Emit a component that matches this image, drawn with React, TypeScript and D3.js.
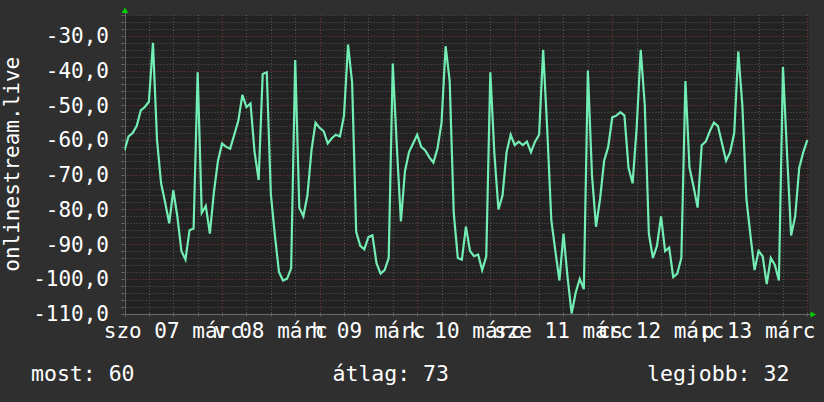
import { useEffect, useRef } from 'react';
import * as d3 from 'd3';

// hourly values, one array per day (07..13 márc) + the last sample
const mar07 = [-63, -59, -58, -56, -51.5, -50.5, -49, -32, -60, -72.5, -78, -84, -74.5, -82, -92, -94.5, -86, -85.5, -40.5, -81, -79, -87, -75, -66];
const mar08 = [-61, -62, -62.5, -58.5, -54.5, -47, -50.5, -49.5, -63.5, -71.5, -41, -40.5, -75.5, -87.5, -98, -100.5, -100, -97, -37, -79.5, -82, -76, -63, -55];
const mar09 = [-56.5, -57.5, -61, -59.5, -58.5, -59, -53, -32.5, -43.5, -86.5, -90.5, -91.5, -88, -87.5, -95.5, -98.5, -97.5, -94, -38, -62, -83.5, -69, -63.5, -61];
const mar10 = [-58.5, -62, -63, -65, -66.5, -62.5, -55, -33, -43, -81, -94, -94.5, -85, -92, -93.5, -93, -97.5, -93.5, -40.5, -64, -80, -76, -63.5, -58.5];
const mar11 = [-61.5, -60.5, -61.5, -60.5, -63.5, -60.5, -58.5, -34, -57, -83, -92, -100.5, -87, -99.5, -110, -104, -100, -103, -40, -70, -85, -77, -66, -62];
const mar12 = [-53.5, -53, -52, -53, -68, -72.5, -56.5, -34, -50, -87, -94, -90.5, -82, -92, -91, -99.5, -98.5, -94, -43, -68, -73.5, -79.5, -61.5, -60.5];
const mar13 = [-57.5, -55, -56, -61, -66, -63.5, -58, -34.5, -50, -77, -87.5, -97.5, -92, -93.5, -101.5, -94, -96, -100.5, -39, -64, -87.5, -82, -68, -63.5];
const mar14 = [-60];

const dayLabels = ['szo 07 márc', 'v 08 márc', 'h 09 márc', 'k 10 márc', 'sze 11 márc', 'cs 12 márc', 'p 13 márc'];
const yTicks = [-110, -100, -90, -80, -70, -60, -50, -40, -30];
const legendLabels = ['most: 60', 'átlag: 73', 'legjobb: 32'];
const yTitle = 'onlinestream.live';

export default function App() {
  const ref = useRef<SVGSVGElement>(null);

  useEffect(() => {
    if (!ref.current) return;
    const svg = d3.select(ref.current);
    svg.selectAll('*').remove();
    const W = 824, H = 402;
    const left = 124.5, right = 809, top = 15, bottom = 313.5;
    const font = "'DejaVu Sans Mono', monospace";
    const values = [...mar07, ...mar08, ...mar09, ...mar10, ...mar11, ...mar12, ...mar13, ...mar14];

    const x = d3.scaleLinear().domain([0, 168.4]).range([left, right]);
    const y = d3.scaleLinear().domain([-110, -24]).range([bottom, top]);
    const px = (v: number) => Math.round(v) + 0.5;

    svg.append('rect').attr('width', W).attr('height', H).attr('fill', '#2f2f2f');
    svg.append('rect').attr('x', left).attr('y', top).attr('width', right - left).attr('height', bottom - top).attr('fill', '#222222');

    // horizontal grid
    const hvals = d3.range(-110, -23, 2);
    svg.append('g').selectAll('line').data(hvals).enter().append('line')
      .attr('x1', left).attr('x2', right)
      .attr('y1', (d) => px(y(d))).attr('y2', (d) => px(y(d)))
      .attr('stroke', (d) => (d % 10 === 0 ? '#7a3434' : '#555555'))
      .attr('stroke-dasharray', '1,2');
    // vertical grid every 6 hours
    const vvals = d3.range(0, 169, 6);
    svg.append('g').selectAll('line').data(vvals).enter().append('line')
      .attr('x1', (d) => px(x(d))).attr('x2', (d) => px(x(d)))
      .attr('y1', top).attr('y2', bottom)
      .attr('stroke', (d) => (d % 24 === 0 ? '#7a3434' : '#555555'))
      .attr('stroke-dasharray', '1,2');

    // axes
    svg.append('line').attr('x1', left - 3).attr('x2', right + 2).attr('y1', px(bottom)).attr('y2', px(bottom)).attr('stroke', '#666');
    svg.append('line').attr('x1', px(left)).attr('x2', px(left)).attr('y1', top - 3).attr('y2', bottom + 3).attr('stroke', '#666');
    svg.append('g').selectAll('line').data(vvals).enter().append('line')
      .attr('x1', (d) => px(x(d))).attr('x2', (d) => px(x(d)))
      .attr('y1', bottom).attr('y2', bottom + 3).attr('stroke', '#666');
    svg.append('g').selectAll('line').data(hvals).enter().append('line')
      .attr('x1', left - 3).attr('x2', left)
      .attr('y1', (d) => px(y(d))).attr('y2', (d) => px(y(d))).attr('stroke', '#666');

    // arrows
    svg.append('path').attr('d', 'M121.5,13 L125,7.5 L128.5,13 Z').attr('fill', '#00cc00');
    svg.append('path').attr('d', 'M810.5,311.5 L816,314.5 L810.5,317.5 Z').attr('fill', '#00cc00');

    // series
    svg.append('clipPath').attr('id', 'plotclip').append('rect')
      .attr('x', left).attr('y', top - 1).attr('width', right - left).attr('height', bottom - top + 2);
    const line = d3.line<number>().x((d, i) => x(i)).y((d) => y(d)).curve(d3.curveLinear);
    svg.append('path').datum(values).attr('d', line)
      .attr('clip-path', 'url(#plotclip)')
      .attr('fill', 'none').attr('stroke', '#72eeb4').attr('stroke-width', 2.2).attr('stroke-linejoin', 'miter');

    // y tick labels
    svg.append('g').selectAll('text').data(yTicks).enter().append('text')
      .attr('x', 109).attr('y', (d) => y(d) + 7.5)
      .attr('text-anchor', 'end').attr('font-family', font).attr('font-size', 21).attr('fill', '#fff')
      .text((d) => d.toFixed(1).replace('.', ','));

    // x day labels, centred at noon
    svg.append('g').selectAll('text').data(dayLabels).enter().append('text')
      .attr('x', (d, i) => x(i * 24 + 12)).attr('y', 338)
      .attr('text-anchor', 'middle').attr('font-family', font).attr('font-size', 21).attr('fill', '#fff')
      .text((d) => d);

    // y title
    svg.append('text')
      .attr('transform', `translate(19,${(top + bottom) / 2}) rotate(-90)`)
      .attr('text-anchor', 'middle').attr('font-family', font).attr('font-size', 21).attr('fill', '#fff')
      .text(yTitle);

    // legend
    const legendX = [31, 332.5, 647];
    svg.append('g').selectAll('text').data(legendLabels).enter().append('text')
      .attr('x', (d, i) => legendX[i]).attr('y', 380.5)
      .attr('font-family', font).attr('font-size', 21.5).attr('fill', '#fff')
      .text((d) => d);
  }, []);

  return <svg ref={ref} width={824} height={402} style={{ position: 'absolute', left: 0, top: 0, display: 'block' }} />;
}
